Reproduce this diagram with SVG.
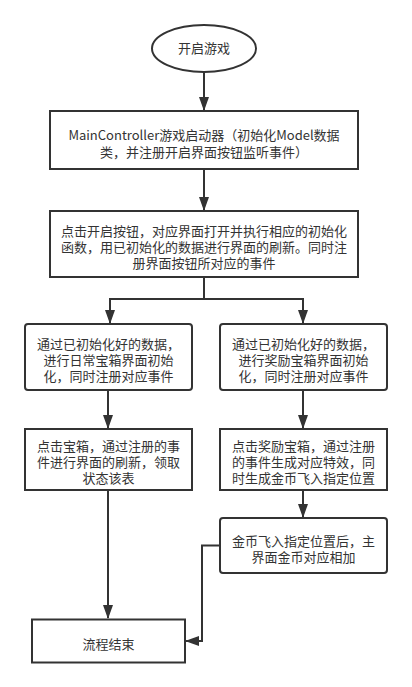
<svg xmlns="http://www.w3.org/2000/svg" width="412" height="687" viewBox="0 0 412 687">
<defs>
<style>
.n{fill:#fff;stroke:#333;stroke-width:2}
.t{font-family:"PingFang SC","Noto Sans CJK SC",sans-serif;font-size:13px;fill:#333;text-anchor:middle}
.c{fill:none;stroke:#333;stroke-width:2}
</style>
<marker id="ah" viewBox="0 0 14 10" refX="13" refY="5" markerWidth="14" markerHeight="10" markerUnits="userSpaceOnUse" orient="auto">
<path d="M0,0 L14,5 L0,10 Z" fill="#333"/>
</marker>
</defs>
<rect width="412" height="687" fill="#fff"/>
<g id="connectors">
<path class="c" d="M204,72 V110" marker-end="url(#ah)"/>
<path class="c" d="M204,169 V210" marker-end="url(#ah)"/>
<path class="c" d="M204,277 V299 H110 V323" marker-end="url(#ah)"/>
<path class="c" d="M204,299 H303 V323" marker-end="url(#ah)"/>
<path class="c" d="M108,390 V428" marker-end="url(#ah)"/>
<path class="c" d="M303,390 V428" marker-end="url(#ah)"/>
<path class="c" d="M108,490 V618" marker-end="url(#ah)"/>
<path class="c" d="M303,490 V517" marker-end="url(#ah)"/>
<path class="c" d="M220,545.5 H202 V641 H186" marker-end="url(#ah)"/>
</g>
<g id="start">
<ellipse class="n" cx="204" cy="48.5" rx="52" ry="23.5"/>
<text class="t" x="204" y="53">开启游戏</text>
</g>
<g id="main">
<rect class="n" x="50" y="111" width="308" height="58"/>
<text class="t" x="204" y="139.5">MainController游戏启动器（初始化Model数据<tspan x="204" dy="17">类，并注册开启界面按钮监听事件）</tspan></text>
</g>
<g id="open">
<rect class="n" x="50" y="211" width="308" height="66"/>
<text class="t" x="204" y="236">点击开启按钮，对应界面打开并执行相应的初始化<tspan x="204" dy="16">函数，用已初始化的数据进行界面的刷新。同时注</tspan><tspan x="204" dy="16">册界面按钮所对应的事件</tspan></text>
</g>
<g id="daily-init">
<rect class="n" x="25" y="324" width="167" height="66" rx="3"/>
<text class="t" x="108.5" y="348.5">通过已初始化好的数据，<tspan x="108.5" dy="16">进行日常宝箱界面初始</tspan><tspan x="108.5" dy="16">化，同时注册对应事件</tspan></text>
</g>
<g id="reward-init">
<rect class="n" x="220" y="324" width="167" height="66" rx="3"/>
<text class="t" x="303.5" y="348.5">通过已初始化好的数据，<tspan x="303.5" dy="16">进行奖励宝箱界面初始</tspan><tspan x="303.5" dy="16">化，同时注册对应事件</tspan></text>
</g>
<g id="daily-click">
<rect class="n" x="25" y="429" width="167" height="61"/>
<text class="t" x="108.5" y="451">点击宝箱，通过注册的事<tspan x="108.5" dy="16">件进行界面的刷新，领取</tspan><tspan x="108.5" dy="16">状态该表</tspan></text>
</g>
<g id="reward-click">
<rect class="n" x="220" y="429" width="167" height="61"/>
<text class="t" x="303.5" y="451">点击奖励宝箱，通过注册<tspan x="303.5" dy="16">的事件生成对应特效，同</tspan><tspan x="303.5" dy="16">时生成金币飞入指定位置</tspan></text>
</g>
<g id="coin">
<rect class="n" x="220" y="518" width="167" height="55" rx="3"/>
<text class="t" x="303.5" y="545.5">金币飞入指定位置后，主<tspan x="303.5" dy="16">界面金币对应相加</tspan></text>
</g>
<g id="end">
<rect class="n" x="32" y="619.5" width="153" height="43"/>
<text class="t" x="108.5" y="648.5">流程结束</text>
</g>
</svg>
